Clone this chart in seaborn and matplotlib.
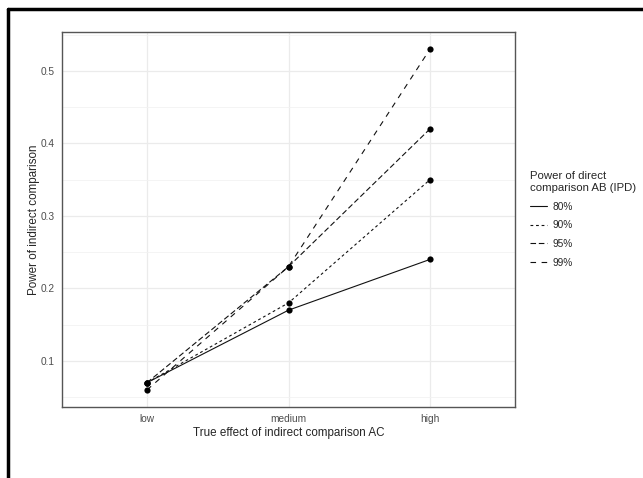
import numpy as np
import pandas as pd
import matplotlib
matplotlib.use('Agg')
import matplotlib.pyplot as plt
from matplotlib.lines import Line2D
import seaborn as sns

# ── data ─────────────────────────────────────────────
effects = ['low', 'medium', 'high']
groups = ['80%', '90%', '95%', '99%']
power_80 = [0.07, 0.17, 0.24]
power_90 = [0.07, 0.18, 0.35]
power_95 = [0.07, 0.23, 0.42]
power_99 = [0.06, 0.23, 0.53]

df = pd.DataFrame({
    'effect': effects * 4,
    'group': np.repeat(groups, 3),
    'power': power_80 + power_90 + power_95 + power_99,
})

# ── style ────────────────────────────────────────────
sns.set_style('white')
plt.rcParams['font.family'] = ['Liberation Sans', 'DejaVu Sans']

fig = plt.figure(figsize=(6.43, 4.78), dpi=100)
ax = fig.add_axes([62 / 643, 1 - 407 / 478, (515 - 62) / 643, (407 - 32) / 478])

dash_map = {'80%': '', '90%': (2.5, 2.5), '95%': (5, 2.5), '99%': (5, 5)}
sns.lineplot(data=df, x='effect', y='power', style='group', dashes=dash_map,
             color='#111111', linewidth=0.8, sort=False, ax=ax)
sns.scatterplot(data=df, x='effect', y='power', color='black', s=20,
                linewidth=0, legend=False, ax=ax, zorder=3)

# ggplot-like scales
lo, hi = df['power'].min(), df['power'].max()
pad = (hi - lo) * 0.05
ax.set_ylim(lo - pad, hi + pad)
ax.set_xlim(-0.6, 2.6)
ax.set_yticks([0.1, 0.2, 0.3, 0.4, 0.5])
ax.set_yticks([0.05, 0.15, 0.25, 0.35, 0.45, 0.55], minor=True)
ax.grid(True, which='major', color='#EBEBEB', linewidth=0.9)
ax.grid(True, which='minor', axis='y', color='#F2F2F2', linewidth=0.6)
ax.set_axisbelow(True)
for s in ax.spines.values():
    s.set_color('#555555')
    s.set_linewidth(1.0)
ax.tick_params(axis='both', which='major', length=3, width=0.8, color='#333333',
               labelsize=7.3, labelcolor='#4D4D4D', pad=2)
ax.tick_params(axis='both', which='minor', length=0)

ax.set_xlabel('True effect of indirect comparison AC', fontsize=8.4, labelpad=2)
ax.set_ylabel('Power of indirect comparison', fontsize=8.4, labelpad=1)

sns.move_legend(ax, 'center left', bbox_to_anchor=(1.025, 0.5), frameon=False,
                title='Power of direct\ncomparison AB (IPD)', title_fontsize=8.2,
                fontsize=7.3, alignment='left', handlelength=1.6, labelspacing=0.85,
                handletextpad=0.6, borderaxespad=0)

# frame lines of the original screenshot
fig.add_artist(Line2D([8 / 643, 1], [1 - 9 / 478, 1 - 9 / 478], color='black',
                      linewidth=2.5, transform=fig.transFigure))
fig.add_artist(Line2D([8 / 643, 8 / 643], [0, 1 - 9 / 478], color='black',
                      linewidth=2.5, transform=fig.transFigure))

plt.savefig('out.png', dpi=100)
